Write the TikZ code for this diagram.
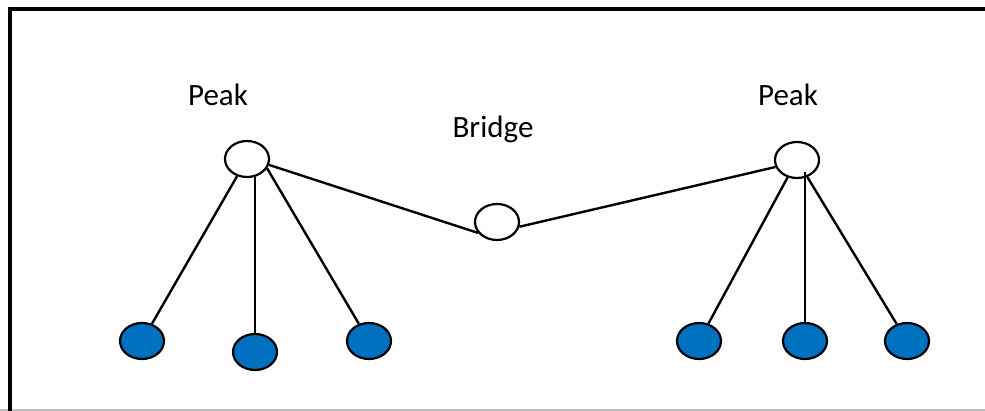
\documentclass[tikz,border=0pt]{standalone}
\usepackage{fontspec}
\setmainfont{Carlito}
\usepackage{tikz}
\usetikzlibrary{shapes.geometric}
\definecolor{leafblue}{RGB}{0,112,192}
\tikzstyle{peakdot}=[ellipse,draw=black,fill=white,line width=1.1pt,
                     inner sep=0pt,minimum width=22pt,minimum height=18pt]
\tikzstyle{leafdot}=[ellipse,draw=black,fill=leafblue,line width=1.1pt,
                     inner sep=0pt,minimum width=22pt,minimum height=18pt]
\tikzstyle{tag}=[font=\fontsize{15.5}{18}\selectfont,inner sep=0pt]
\begin{document}
\begin{tikzpicture}[x=0.5pt,y=-0.5pt,line width=1.2pt]
    \useasboundingbox (0,0) rectangle (985,411);
    % frame
    \draw[gray!50,line width=0.6pt] (0,410) -- (985,410);
    \draw[line width=1.6pt] (10,411) -- (10,9) -- (985,9);
    % peaks and bridge
    \node (pk1) at (247,159) [peakdot]{};
    \node (pk2) at (797,160) [peakdot]{};
    \node (br)  at (497,222) [peakdot]{};
    \node (t1) at (218,95)  [tag]{Peak};
    \node (t2) at (788,95)  [tag]{Peak};
    \node (t3) at (493,129) [tag]{Bridge};
    % leaves
    \node (lf1) at (142,341) [leafdot]{};
    \node (lf2) at (255,352) [leafdot]{};
    \node (lf3) at (369,341) [leafdot]{};
    \node (lf4) at (699,341) [leafdot]{};
    \node (lf5) at (805,341) [leafdot]{};
    \node (lf6) at (907,341) [leafdot]{};
    \draw (pk1.-15) -- (br.210) (br.-12) -- (pk2.198);
    \draw (pk1) -- (lf1) (pk1.-25) -- (lf3);
    \draw (lf2.north) -- ([yshift=1pt]lf2.north |- pk1.south);
    \draw (pk2) -- (lf4) (pk2) -- (lf6);
    \draw (lf5.north) -- ([yshift=-6pt]lf5.north |- pk2.center);
\end{tikzpicture}
\end{document}
